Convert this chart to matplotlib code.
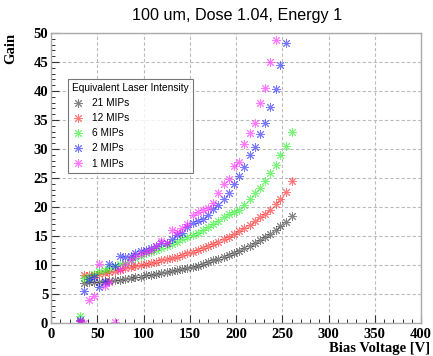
import matplotlib
matplotlib.use("Agg")
import matplotlib.pyplot as plt
from matplotlib.ticker import MultipleLocator

voltage = [31, 36, 41, 47, 52, 58, 63, 69, 75, 80, 86, 91, 97, 103, 108, 114, 119, 125, 131, 136,
           142, 147, 153, 159, 164, 170, 175, 181, 187, 192, 198, 203, 209, 215, 220, 226, 231, 237,
           243, 248, 254, 260]

gain_21 = [0.4, 6.9, 7.0, 7.0, 7.1, 7.2, 7.3, 7.4, 7.5, 7.6, 7.8, 7.9, 8.0, 8.2, 8.3, 8.5, 8.6, 8.8,
           8.9, 9.1, 9.3, 9.5, 9.7, 9.9, 10.2, 10.5, 10.8, 11.1, 11.4, 11.8, 12.1, 12.5, 12.9, 13.3,
           13.8, 14.3, 14.8, 15.4, 16.0, 16.8, 17.5, 18.4]
gain_12 = [0.0, 8.2, 8.2, 8.3, 8.4, 8.6, 8.8, 9.0, 9.2, 9.4, 9.6, 9.8, 10.0, 10.2, 10.4, 10.6, 10.8,
           11.0, 11.2, 11.4, 11.7, 12.0, 12.3, 12.6, 12.9, 13.3, 13.6, 14.0, 14.4, 14.9, 15.3, 15.8,
           16.3, 16.9, 17.6, 18.2, 18.8, 19.5, 20.6, 21.4, 22.6, 24.4]
gain_6 = [1.2, 7.8, 8.0, 8.5, 8.9, 9.2, 9.5, 9.8, 10.1, 10.4, 10.8, 11.2, 11.6, 12.0, 12.3, 12.6,
          13.0, 13.3, 13.6, 14.0, 14.4, 14.8, 15.2, 15.6, 16.1, 16.6, 17.1, 17.6, 18.2, 18.8, 19.2,
          19.5, 20.4, 21.4, 22.4, 23.3, 24.4, 25.9, 27.3, 29.0, 30.6, 32.9]
voltage_2 = voltage[:-1]
gain_2 = [0.5, 5.6, 7.6, 8.0, 6.2, 7.1, 10.2, 9.8, 11.5, 11.3, 11.5, 12.0, 12.4, 12.6, 12.9, 13.2,
          13.8, 13.8, 14.5, 15.1, 15.6, 16.5, 17.2, 17.6, 18.0, 18.6, 19.6, 20.3, 21.3, 22.5, 24.0,
          25.4, 26.9, 28.9, 30.4, 32.6, 34.4, 37.3, 40.3, 44.4, 48.3]
voltage_1 = voltage[:-3]
gain_1 = [0.3, 0.0, 3.9, 4.6, 10.1, 6.4, 7.1, 0.2, 9.3, 10.2, 10.8, 11.5, 11.9, 12.3, 12.6, 13.3,
          14.2, 13.8, 16.1, 15.7, 16.4, 17.0, 18.6, 19.2, 19.5, 19.9, 20.7, 22.4, 23.9, 24.9, 27.0,
          27.7, 30.8, 32.8, 34.4, 38.0, 40.6, 45.0, 48.8]

series = [
    ("21 MIPs", voltage, gain_21, "#333333"),
    ("12 MIPs", voltage, gain_12, "#ff2222"),
    ("6 MIPs", voltage, gain_6, "#22ee22"),
    ("2 MIPs", voltage_2, gain_2, "#2222ff"),
    ("1 MIPs", voltage_1, gain_1, "#ff22ff"),
]

fig = plt.figure(figsize=(4.33, 3.56), dpi=100)
ax = fig.add_axes([51 / 433, 33 / 356, 370 / 433, 290 / 356])

handles = []
for label, xs, ys, col in series:
    h, = ax.plot(xs, ys, linestyle="none", marker=(8, 2, 0), markersize=6.2,
                 markeredgewidth=0.7, color=col, alpha=0.6, label=label)
    handles.append(h)

ax.set_xlim(0, 400)
ax.set_ylim(0, 50)
ax.xaxis.set_major_locator(MultipleLocator(50))
ax.xaxis.set_minor_locator(MultipleLocator(10))
ax.yaxis.set_major_locator(MultipleLocator(5))
ax.yaxis.set_minor_locator(MultipleLocator(1))
ax.tick_params(which="both", direction="in", top=False, right=False, color="#333333")
ax.tick_params(which="major", length=5.5, width=0.8)
ax.tick_params(which="minor", length=3, width=0.7)
ax.tick_params(axis="x", pad=3.5)
ax.tick_params(axis="y", pad=2)
for lab in ax.get_xticklabels() + ax.get_yticklabels():
    lab.set_fontfamily("Liberation Serif")
    lab.set_fontweight("bold")
    lab.set_fontsize(10.5)

ax.grid(True, which="major", linestyle=(0, (3, 2)), color="#bbbbbb", linewidth=0.8)
ax.set_axisbelow(True)
for sp in ax.spines.values():
    sp.set_color("#aaaaaa")
    sp.set_linewidth(1.0)

ax.set_xlabel("Bias Voltage [V]", loc="right", fontfamily="Liberation Serif",
              fontweight="bold", fontsize=10.5)
ax.xaxis.set_label_coords(1.024, -0.066)
ax.set_ylabel("Gain", loc="top", fontfamily="Liberation Serif", fontweight="bold", fontsize=10.5)
ax.yaxis.set_label_coords(-0.092, 1.0)

fig.text(237 / 433, 1 - 15.5 / 356, "100 um, Dose 1.04, Energy 1", ha="center", va="center",
         fontfamily="Liberation Sans", fontsize=11.6)

leg = ax.legend(handles=handles, title="Equivalent Laser Intensity", loc="upper left",
                bbox_to_anchor=(0.046, 0.841), fontsize=7.3, title_fontsize=7.3,
                alignment="left", frameon=True, fancybox=False, borderpad=0.4,
                labelspacing=0.5, handletextpad=0.8, handlelength=1.2, borderaxespad=0)
leg.get_frame().set_edgecolor("#555555")
leg.get_frame().set_linewidth(0.8)
for t in leg.get_texts():
    t.set_fontfamily("Liberation Sans")
leg.get_title().set_fontfamily("Liberation Sans")

fig.savefig("out.png", dpi=100)
